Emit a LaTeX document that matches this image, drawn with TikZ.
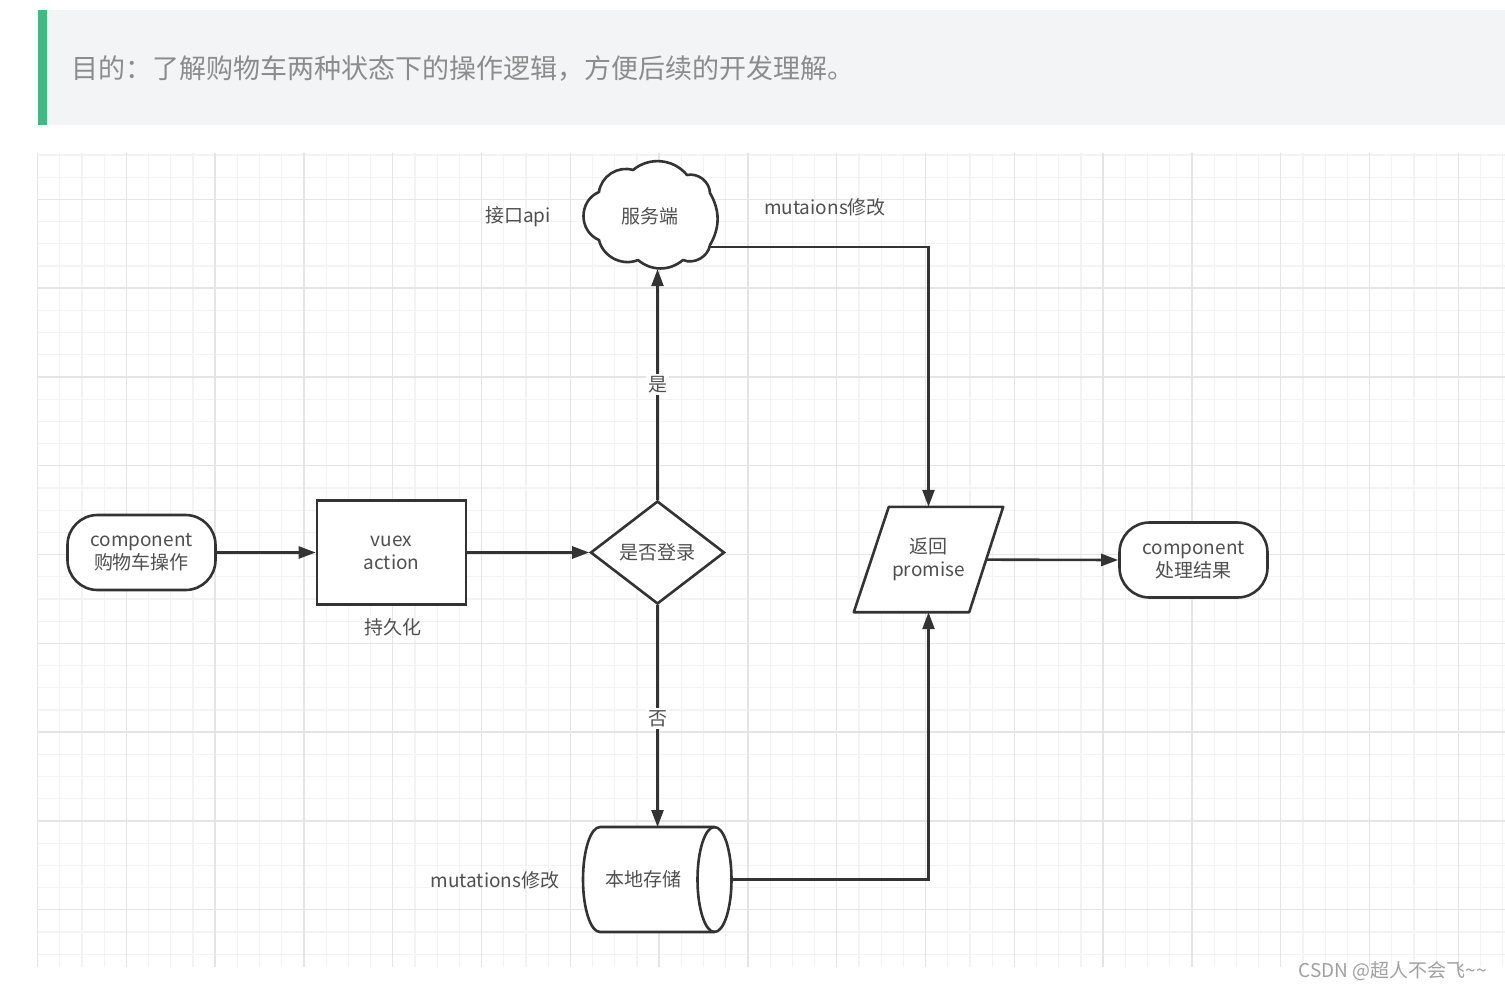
\documentclass[tikz,border=0pt]{standalone}
\usepackage{fontspec}
\setmainfont{Noto Sans CJK SC}
\usetikzlibrary{shapes.geometric,arrows.meta,calc}
\pgfdeclarelayer{bglayer}
\pgfdeclarelayer{gridlayer}
\pgfdeclarelayer{edges}
\pgfdeclarelayer{shapelayer}
\pgfsetlayers{bglayer,gridlayer,edges,shapelayer,main}
\definecolor{hdrbg}{HTML}{F3F4F5}
\definecolor{hdrgreen}{HTML}{42B983}
\definecolor{hdrtext}{HTML}{8C8C8C}
\definecolor{ink}{HTML}{333333}
\definecolor{txt}{HTML}{505050}
\definecolor{gridminor}{HTML}{F3F3F3}
\definecolor{gridmajor}{HTML}{E5E5E5}
\definecolor{wm}{HTML}{A0A0A0}
\tikzset{
  nodefont/.style={font=\fontsize{19}{23}\selectfont},
  shapebox/.style={draw=ink, line width=2.6pt, fill=white, text=txt, nodefont, align=center, inner sep=0pt},
  termbox/.style={shapebox, rounded corners=30pt, minimum width=148pt, minimum height=75pt},
  procbox/.style={shapebox, minimum width=149pt, minimum height=104pt},
  decision/.style={shapebox, diamond, minimum width=134pt, minimum height=103pt},
  hiddenbox/.style={inner sep=0pt, text=txt, nodefont, align=center},
  outline/.style={draw=ink, line width=2.6pt, fill=white, line join=round},
  plainlabel/.style={text=txt, nodefont, inner sep=1pt},
  edgelabel/.style={text=txt, nodefont, fill=white, inner sep=2pt},
  wire/.style={draw=ink, line width=2.6pt},
  flow/.style={wire, -{Triangle[length=17pt,width=12pt]}},
}
\begin{document}
\begin{tikzpicture}[x=1pt,y=-1pt]
\useasboundingbox (0,0) rectangle (1505,991);
\begin{pgfonlayer}{bglayer}
  \fill[white] (0,0) rectangle (1505,991);
\end{pgfonlayer}
% header
\fill[hdrbg] (38,10) rectangle (1505,125);
\fill[hdrgreen] (38,10) rectangle (47,125);
\node[anchor=west, inner sep=0pt, text=hdrtext, font=\fontsize{27}{30}\selectfont] (title) at (71,69) {目的：了解购物车两种状态下的操作逻辑，方便后续的开发理解。};
% grid
\begin{pgfonlayer}{gridlayer}
  \foreach \i in {0,...,66}{\draw[gridminor, line width=1.2pt] ({37.5+22.2*\i},153) -- ({37.5+22.2*\i},967);}
  \foreach \j in {0,...,36}{\draw[gridminor, line width=1.2pt] (38,{154.9+22.2*\j}) -- (1505,{154.9+22.2*\j});}
  \foreach \i in {0,4,...,64}{\draw[gridmajor, line width=1.4pt] ({37.5+22.2*\i},153) -- ({37.5+22.2*\i},967);}
  \foreach \j in {2,6,...,34}{\draw[gridmajor, line width=1.4pt] (38,{154.9+22.2*\j}) -- (1505,{154.9+22.2*\j});}
\end{pgfonlayer}
% nodes
\node[termbox] (start) at (141.5,552.5) {component\\购物车操作};
\node[procbox] (vuex) at (391.5,552.5) {vuex\\action};
\node[plainlabel] (persist) at (393,627) {持久化};
\node[decision] (login) at (657.5,552.5) {是否登录};
\node[hiddenbox, minimum width=133pt, minimum height=106pt] (server) at (650,216) {服务端};
\node[plainlabel] (api) at (518,217) {接口api};
\node[plainlabel] (mutsrv) at (825,207) {mutaions修改};
\node[hiddenbox, minimum width=149pt, minimum height=105pt] (ret) at (928.5,559.5) {返回\\promise};
\node[termbox] (finish) at (1193.5,560) {component\\处理结果};
\node[hiddenbox, minimum width=120pt, minimum height=105pt] (store) at (643,879.5) {本地存储};
\node[plainlabel] (mutloc) at (495,880) {mutations修改};
\node[text=wm, inner sep=0pt, font=\fontsize{19}{21}\selectfont] (mark) at (1393,971) {CSDN @超人不会飞\textasciitilde\textasciitilde};
% drawn outlines
\begin{pgfonlayer}{shapelayer}
  % cloud
  \path[outline] (599,192) to[bend left=50] (633,170) to[bend left=45] (687,175)
     to[bend left=50] (710,193) to[bend left=30] (710,245) to[bend left=52] (683,260)
     to[bend left=40] (638,260) to[bend left=50] (599,240) to[bend left=67, looseness=1.2] (599,192) -- cycle;
  % parallelogram
  \path[outline] ($(ret.north west)+(35,0)$) -- (ret.north east) -- ($(ret.south east)-(34,0)$) -- (ret.south west) -- cycle;
  % cylinder
  \path[outline] (714.5,827) -- (600,827) arc[start angle=-90, end angle=-270, x radius=17, y radius=52.5]
     -- (714.5,932) arc[start angle=90, end angle=-90, x radius=17, y radius=52.5] -- cycle;
  \draw[draw=ink, line width=2.6pt] (714.5,827) arc[start angle=-90, end angle=-270, x radius=17, y radius=52.5];
\end{pgfonlayer}
% connectors
\begin{pgfonlayer}{edges}
  \draw[flow] (start.east) -- (vuex.west);
  \draw[flow] (vuex.east) -- (login.west);
  \draw[flow] (login.north) -- (login.north |- server.south) node[edgelabel, pos=0.5] (yes) {是};
  \draw[flow] (login.south) -- (login.south |- 0,827) node[edgelabel, pos=0.51] (no) {否};
  \draw[flow] ($(server.center)+(0,31)$) -| (ret.north);
  \draw[flow] (store.center) -| (ret.south);
  \draw[flow] (ret.center) -- (finish.west);
\end{pgfonlayer}
\end{tikzpicture}
\end{document}
